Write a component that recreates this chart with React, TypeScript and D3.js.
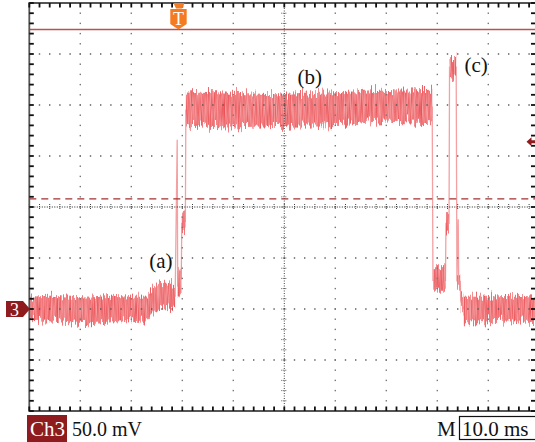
import React from "react";
import * as d3 from "d3";

// Ch3 trace: [time ms, upper edge mV, lower edge mV]
type Sample = [number, number, number];

const preTrigger: Sample[] = [
  [0, 12, -12], [4, 13, -11], [8, 12, -13], [12, 11, -14], [16, 13, -12],
  [20, 12, -12], [23, 12, -11], [24.2, 20, -4], [25.5, 25, 1], [27, 26, 2], [28.6, 23, 0],
];
const riseA: Sample[] = [[29.1, 38, 10], [29.8, 44, 16]];
const riseB: Sample[] = [[29.9, 94, 74], [30.6, 96, 76]];
const plateauB: Sample[] = [
  [30.7, 212, 178], [33.5, 213, 179], [39.4, 212, 178], [45.2, 211, 179], [51.1, 210, 180],
  [57, 212, 180], [62.9, 213, 181], [68.8, 215, 184], [73.7, 214, 183], [79, 215, 182],
];
const dropLow: Sample[] = [[79.2, 40, 17], [81.6, 40, 17]];
const stepMid: Sample[] = [[81.7, 94, 75], [82.3, 94, 75]];
const peakC: Sample[] = [[82.4, 247, 227], [83.7, 247, 227]];
const fallLow: Sample[] = [[83.9, 35, 19], [84.5, 35, 19]];
const settle: Sample[] = [[84.6, 16, -1], [85.1, 14, -4]];
const postBase: Sample[] = [[85.2, 12, -13], [90, 12, -13], [95, 13, -12], [100, 12, -13]];

const bandSegments = [preTrigger, riseA, riseB, plateauB, dropLow, stepMid, peakC, fallLow, settle, postBase];

// thin jumps between the levels: [time ms, mV]
const transitionTrace: [number, number][] = [
  [28.6, 12], [29.0, 166], [29.1, 22], [29.8, 30], [29.9, 84], [30.6, 86], [30.7, 195],
  [79.0, 198], [79.15, 28], [81.6, 28], [81.7, 84], [82.3, 84], [82.4, 237], [83.7, 237],
  [83.85, 27], [84.1, 88], [84.2, 27], [84.5, 27], [84.6, 8], [85.2, 0],
];

const labelText = ["(a)", "(b)", "(c)"];
const labelTime = [25.8, 55, 87.6];
const labelLevel = [40, 221, 232];

const refLevel = 274; // mV
const cursorLevel = 108; // mV
const triggerLevel = 164; // mV
const triggerTime = 29.35; // ms
const groundLevel = 0;

const serif = "'Liberation Serif', 'Times New Roman', serif";

export default function App() {
  const W = 535, H = 442;
  const x = d3.scaleLinear().domain([0, 100]).range([29.3, 539.3]);
  const y = d3.scaleLinear().domain([-100, 300]).range([411, 3]);
  const right = W;

  const minorT = d3.range(0, 100.01, 2);
  const minorV = d3.range(-100, 300.01, 10);
  const majorT = d3.range(10, 100, 10).filter((t) => t !== 50);
  const majorV = d3.range(-50, 300, 50).filter((v) => v !== 100);

  const band = d3.area<Sample>().x((d) => x(d[0])).y0((d) => y(d[2])).y1((d) => y(d[1]));
  const trace = d3.line<[number, number]>().x((d) => x(d[0])).y((d) => y(d[1]));

  const cy = y(100), cx = x(50);

  return (
    <div style={{ position: "absolute", left: 0, top: 0 }}>
      <svg width={W} height={H} style={{ display: "block", background: "#fff" }}>
        <defs>
          <filter id="noisy" filterUnits="userSpaceOnUse" x={0} y={0} width={W} height={H} colorInterpolationFilters="sRGB">
            <feTurbulence type="fractalNoise" baseFrequency="0.8 0.02" numOctaves={2} seed={3} result="n" />
            <feColorMatrix in="n" type="matrix" values="0 0 0 0 0.5  0 1 0 0 0  0 0 0 0 0  0 0 0 0 1" result="d" />
            <feDisplacementMap in="SourceGraphic" in2="d" scale={20} xChannelSelector="R" yChannelSelector="G" result="disp" />
            <feTurbulence type="fractalNoise" baseFrequency="1.3 0.05" numOctaves={1} seed={9} result="n2" />
            <feColorMatrix in="n2" type="matrix" values="0 0 0 0 0.92  0 0 0 0 0.32  0 0 0 0 0.34  1.9 0 0 0 -0.5" result="tex" />
            <feComposite in="tex" in2="disp" operator="in" result="t2" />
            <feMerge>
              <feMergeNode in="disp" />
              <feMergeNode in="t2" />
            </feMerge>
          </filter>
        </defs>

        {/* signal */}
        <path d={trace(transitionTrace) ?? ""} fill="none" stroke="#f5a0a2" strokeWidth={1.3} />
        <g filter="url(#noisy)">
          {bandSegments.map((seg, i) => (
            <path key={i} d={band(seg) ?? ""} fill="#f5a1a3" />
          ))}
        </g>

        {/* grid dots */}
        {majorV.map((v) =>
          minorT.slice(1, -1).map((t) => (
            <rect key={`h${v}-${t}`} x={x(t) - 0.7} y={y(v) - 0.7} width={1.4} height={1.4} fill="#555" />
          ))
        )}
        {majorT.map((t) =>
          minorV.slice(1, -1).map((v) => (
            <rect key={`v${t}-${v}`} x={x(t) - 0.7} y={y(v) - 0.7} width={1.4} height={1.4} fill="#777" />
          ))
        )}

        {/* centre axes */}
        <line x1={x(0)} x2={right} y1={cy} y2={cy} stroke="#222" strokeDasharray="1 1.5" />
        <line x1={cx} x2={cx} y1={y(300)} y2={y(-100)} stroke="#444" strokeDasharray="1 1.5" />
        {minorT.map((t) => (
          <line key={`ct${t}`} x1={x(t)} x2={x(t)} y1={cy - 3} y2={cy + 3} stroke="#444" strokeDasharray="1 1" />
        ))}
        {minorV.map((v) => (
          <line key={`cv${v}`} x1={cx - 3} x2={cx + 3} y1={y(v)} y2={y(v)} stroke="#555" strokeDasharray="1 1" />
        ))}

        {/* cursors */}
        <line x1={x(0)} x2={right} y1={y(refLevel)} y2={y(refLevel)} stroke="#c0504f" strokeWidth={1.5} />
        <line x1={x(0)} x2={right} y1={y(cursorLevel)} y2={y(cursorLevel)} stroke="#a3302f" strokeWidth={1.4} strokeDasharray="7 5" />

        {/* frame */}
        <path d={`M${right},${y(300)} H${x(0)} V${y(-100)} H${right}`} fill="none" stroke="#555" strokeWidth={1.8} />
        {minorT.map((t) => (
          <g key={`bt${t}`}>
            <line x1={x(t)} x2={x(t)} y1={y(300)} y2={y(300) + 4.5} stroke="#111" strokeWidth={1.8} />
            <line x1={x(t)} x2={x(t)} y1={y(-100)} y2={y(-100) - 4.5} stroke="#111" strokeWidth={1.8} />
          </g>
        ))}
        {minorV.map((v) => (
          <g key={`bv${v}`}>
            <line x1={x(0)} x2={x(0) + 4.5} y1={y(v)} y2={y(v)} stroke="#111" strokeWidth={1.8} />
            <line x1={right} x2={right - 4} y1={y(v)} y2={y(v)} stroke="#111" strokeWidth={1.8} />
          </g>
        ))}

        {/* annotations */}
        {labelText.map((s, i) => (
          <text key={s} x={x(labelTime[i])} y={y(labelLevel[i])} textAnchor="middle" fontFamily={serif} fontSize={21} fill="#111">
            {s}
          </text>
        ))}

        {/* trigger position marker */}
        <g transform={`translate(${x(triggerTime)},0)`}>
          <polygon points="-5.5,3 5.5,3 3,8.5 -3,8.5" fill="#f47b20" />
          <path d="M-8.7,9 H7.7 V24 L-0.5,29.5 L-8.7,24 Z" fill="#f47b20" />
          <text x={-0.5} y={25} textAnchor="middle" fontFamily={serif} fontSize={18} fill="#fff">T</text>
        </g>

        {/* ground marker */}
        <g transform={`translate(0,${y(groundLevel)})`}>
          <path d="M6,-8 H23 L30,0 L23,8 H6 Z" fill="#8e1b1e" />
          <text x={14.5} y={6.5} textAnchor="middle" fontFamily={serif} fontSize={18} fill="#fff">3</text>
        </g>

        {/* trigger level arrow */}
        <g transform={`translate(0,${y(triggerLevel)})`}>
          <polygon points="526.5,0 531.5,-4.5 531.5,-1.5 535,-1.5 535,1.5 531.5,1.5 531.5,4.5" fill="#8e1b1e" />
        </g>

        {/* readout */}
        <rect x={27} y={415} width={40} height={27} fill="#8e1b1e" />
        <text x={30} y={436} fontFamily={serif} fontSize={21} fill="#fff">Ch3</text>
        <text x={72} y={436} fontFamily={serif} fontSize={20} fill="#111">50.0 mV</text>
        <text x={437} y={436} fontFamily={serif} fontSize={21} fill="#111">M</text>
        <rect x={459.5} y={416.5} width={80} height={23} fill="none" stroke="#111" strokeWidth={1.2} />
        <text x={462} y={436} fontFamily={serif} fontSize={21} fill="#111">10.0 ms</text>
      </svg>
    </div>
  );
}
